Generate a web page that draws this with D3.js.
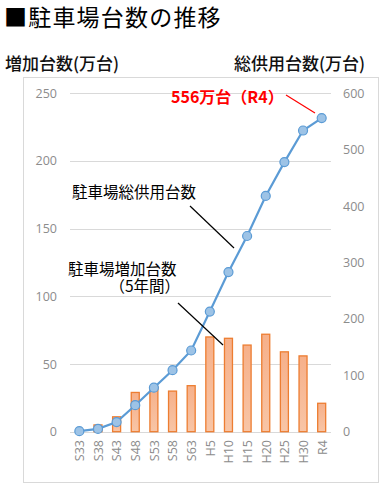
<!DOCTYPE html>
<html><head><meta charset="utf-8">
<script src="https://cdn.jsdelivr.net/npm/d3@7"></script>
<style>
html,body{margin:0;padding:0;background:#fff;}
svg{display:block;font-family:"Noto Sans CJK JP","Noto Sans",sans-serif;}
</style></head>
<body>
<script>
const categories = ["S33","S38","S43","S48","S53","S58","S63","H5","H10","H15","H20","H25","H30","R4"];
const increase = [0,5,11,29,33,30,34,70,69,64,72,59,56,21];
const total = [1,5,17,47,78,109,144,213,283,347,418,478,534,556];
const leftTicks = [0,50,100,150,200,250];
const rightTicks = [0,100,200,300,400,500,600];

const W=386,H=490;
const svg=d3.select("body").append("svg").attr("width",W).attr("height",H);

const x=d3.scalePoint().domain(categories).range([70,331]).padding(0.5);
const yL=d3.scaleLinear().domain([0,250]).range([431.7,93.3]);
const yR=d3.scaleLinear().domain([0,600]).range([431.7,93.3]);

// title
svg.append("text").attr("x",4).attr("y",26).attr("font-size",23).attr("letter-spacing",1.2)
  .attr("fill","#000").text("■駐車場台数の推移");
svg.append("text").attr("x",5).attr("y",70).attr("font-size",17).attr("font-weight",500)
  .attr("fill","#111").text("増加台数(万台)");
svg.append("text").attr("x",365).attr("y",70).attr("font-size",17).attr("font-weight",500)
  .attr("text-anchor","end").attr("fill","#111").text("総供用台数(万台)");

// frame
svg.append("rect").attr("x",23.5).attr("y",77.5).attr("width",355).attr("height",405)
  .attr("fill","#fff").attr("stroke","#d9d9d9");

// gridlines
svg.append("g").selectAll("line").data(leftTicks).join("line")
  .attr("x1",70).attr("x2",331).attr("y1",d=>Math.round(yL(d))+0.5).attr("y2",d=>Math.round(yL(d))+0.5)
  .attr("stroke","#d9d9d9").attr("stroke-width",1);

// left axis
const gL=svg.append("g").attr("transform","translate(62,0)")
  .call(d3.axisLeft(yL).tickValues(leftTicks).tickSize(0).tickPadding(5));
gL.select(".domain").remove();
gL.selectAll("text").attr("fill","#8c8c8c").attr("font-size",12.5).attr("font-family","'Open Sans','Noto Sans',sans-serif");

const gR=svg.append("g").attr("transform","translate(338,0)")
  .call(d3.axisRight(yR).tickValues(rightTicks).tickSize(0).tickPadding(5));
gR.select(".domain").remove();
gR.selectAll("text").attr("fill","#8c8c8c").attr("font-size",12.5).attr("font-family","'Open Sans','Noto Sans',sans-serif");

// x axis
const gX=svg.append("g").attr("transform","translate(0,436)")
  .call(d3.axisBottom(x).tickSize(0).tickPadding(0));
gX.select(".domain").remove();
gX.selectAll("text").attr("fill","#8c8c8c").attr("font-size",12.5)
  .attr("font-family","'Open Sans','Noto Sans',sans-serif")
  .attr("transform","rotate(-90)").attr("text-anchor","end").attr("dy","0.35em").attr("x",-4).attr("y",0);

// gradient
const defs=svg.append("defs");
const grad=defs.append("linearGradient").attr("id","bg").attr("x1",0).attr("x2",0).attr("y1",0).attr("y2",1);
grad.append("stop").attr("offset","0%").attr("stop-color","#f6b08a");
grad.append("stop").attr("offset","100%").attr("stop-color","#f8c5a6");

const bw=8;
svg.append("g").selectAll("rect").data(categories).join("rect")
  .attr("x",d=>x(d)-bw/2).attr("width",bw)
  .attr("y",(d,i)=>yL(increase[i])).attr("height",(d,i)=>yL(0)-yL(increase[i]))
  .attr("fill","url(#bg)").attr("stroke","#ed7d31").attr("stroke-width",1.3)
  .style("display",(d,i)=>increase[i]>0?null:"none");

// line
const line=d3.line().x((d,i)=>x(categories[i])).y(d=>yR(d));
svg.append("path").datum(total).attr("d",line).attr("fill","none")
  .attr("stroke","#5b9bd5").attr("stroke-width",2.2);
svg.append("g").selectAll("circle").data(total).join("circle")
  .attr("cx",(d,i)=>x(categories[i])).attr("cy",d=>yR(d)).attr("r",4.5)
  .attr("fill","#9dc3e6").attr("stroke","#5b9bd5").attr("stroke-width",1.2);

// annotations
svg.append("text").attr("x",72).attr("y",198).attr("font-size",15.5).attr("fill","#000").text("駐車場総供用台数");
svg.append("line").attr("x1",190).attr("y1",206).attr("x2",234).attr("y2",248).attr("stroke","#000").attr("stroke-width",1.2);
const t2=svg.append("text").attr("font-size",15.5).attr("fill","#000");
t2.append("tspan").attr("x",68).attr("y",275).text("駐車場増加台数");
t2.append("tspan").attr("x",180).attr("y",292).attr("text-anchor","end").text("（5年間）");
svg.append("line").attr("x1",178).attr("y1",303).attr("x2",223).attr("y2",345).attr("stroke","#000").attr("stroke-width",1.2);
svg.append("text").attr("x",171).attr("y",103).attr("font-size",16).attr("font-weight",700).attr("fill","#ff0000").text("556万台（R4）");
svg.append("line").attr("x1",286).attr("y1",95).attr("x2",315).attr("y2",113).attr("stroke","#ff0000").attr("stroke-width",1.2);
</script>
</body></html>
